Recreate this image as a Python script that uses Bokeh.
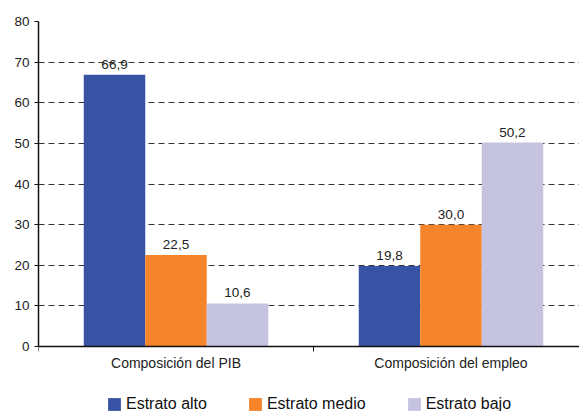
from bokeh.plotting import figure
from bokeh.models import (ColumnDataSource, Range1d, FixedTicker, Legend, LegendItem)
from bokeh.transform import dodge
from bokeh.core.properties import value
from bokeh.embed import file_html
from bokeh.resources import INLINE

categories = ["Composición del PIB", "Composición del empleo"]
series = ["Estrato alto", "Estrato medio", "Estrato bajo"]
alto = [66.9, 19.8]
medio = [22.5, 30.0]
bajo = [10.6, 50.2]
y_ticks = [0, 10, 20, 30, 40, 50, 60, 70, 80]

colors = ["#3953A4", "#F5842B", "#C6C3E1"]
FONT = "Liberation Sans"

def fmt(v):
    return f"{v:.1f}".replace(".", ",")

centers = [i + 0.5 for i in range(len(categories))]
src = ColumnDataSource(dict(
    x=centers,
    alto=alto, medio=medio, bajo=bajo,
    alto_l=[fmt(v) for v in alto],
    medio_l=[fmt(v) for v in medio],
    bajo_l=[fmt(v) for v in bajo],
))

W, H = 579, 411
left, top = 38, 21
frame_w = W - left
frame_h = H - top
px_per_unit = 325 / 80.0
x_end = frame_w / 275.0
y_start = -(frame_h / px_per_unit - 80)

p = figure(width=W, height=H, output_backend="svg", toolbar_location=None,
           x_range=Range1d(0, x_end), y_range=Range1d(y_start, 80),
           min_border_left=left, min_border_right=0, min_border_top=top,
           min_border_bottom=0)
p.outline_line_color = None
p.background_fill_color = "white"
p.border_fill_color = "white"

bw = 0.2236
renderers = []
for k, (key, col) in enumerate(zip(["alto", "medio", "bajo"], colors)):
    off = (k - 1) * bw
    r = p.vbar(x=dodge("x", off, range=p.x_range), top=key, bottom=0, width=bw,
               source=src, fill_color=col, line_color=None)
    renderers.append(r)
    p.text(x=dodge("x", off, range=p.x_range), y=key, text=key + "_l", source=src,
           text_align="center", text_baseline="bottom", y_offset=-6,
           text_font=value(FONT), text_font_size="13.5px", text_color="#222222")

# y axis
p.yaxis.ticker = FixedTicker(ticks=y_ticks)
p.yaxis.bounds = (0, 80)
p.yaxis.minor_tick_line_color = None
p.yaxis.major_tick_out = 4
p.yaxis.major_tick_in = 0
p.yaxis.major_label_standoff = 5
p.yaxis.axis_line_color = "#111111"
p.yaxis.axis_line_width = 1.5
p.yaxis.major_tick_line_color = "#111111"
p.yaxis.major_label_text_font = FONT
p.yaxis.major_label_text_font_size = "13.5px"
p.yaxis.major_label_text_color = "#222222"

# x axis
p.xaxis.fixed_location = 0
p.xaxis.ticker = FixedTicker(ticks=centers, minor_ticks=[0, 1, 2])
p.xaxis.major_label_overrides = {c: n for c, n in zip(centers, categories)}
p.xaxis.major_tick_out = 0
p.xaxis.major_tick_in = 0
p.xaxis.minor_tick_out = 5
p.xaxis.minor_tick_in = 0
p.xaxis.minor_tick_line_color = "#111111"
p.xaxis.axis_line_color = "#111111"
p.xaxis.axis_line_width = 1.5
p.xaxis.major_label_standoff = 3
p.xaxis.major_label_text_font = FONT
p.xaxis.major_label_text_font_size = "14px"
p.xaxis.major_label_text_color = "#222222"

p.xgrid.grid_line_color = None
p.ygrid.ticker = FixedTicker(ticks=y_ticks[1:])
p.ygrid.grid_line_color = "#333333"
p.ygrid.grid_line_dash = "6 4"
p.ygrid.grid_line_width = 1

legend = Legend(items=[LegendItem(label=s, renderers=[r]) for s, r in zip(series, renderers)],
                orientation="horizontal", location=(68, -2),
                glyph_width=16, glyph_height=16, label_standoff=4, spacing=40,
                padding=0, margin=0,
                border_line_alpha=0, background_fill_alpha=0,
                label_text_font=FONT, label_text_font_size="16px",
                label_text_color="#111111")
p.add_layout(legend, "center")

open("out.html", "w").write(file_html(p, INLINE))
